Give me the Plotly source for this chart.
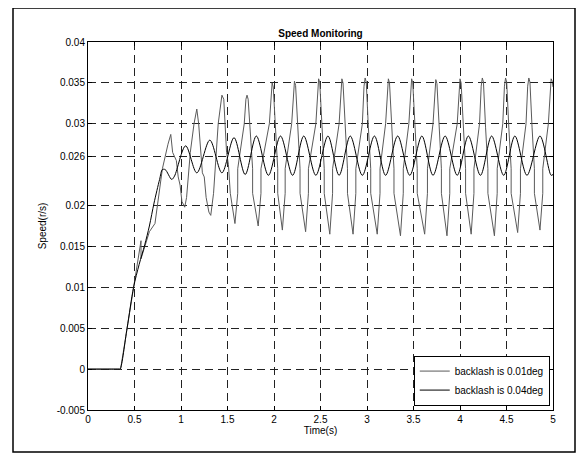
import plotly.graph_objects as go

# ---- data ----
x_ticks = [0, 0.5, 1, 1.5, 2, 2.5, 3, 3.5, 4, 4.5, 5]
x_tick_text = ["0", "0.5", "1", "1.5", "2", "2.5", "3", "3.5", "4", "4.5", "5"]
y_ticks = [-0.005, 0, 0.005, 0.01, 0.015, 0.02, 0.026, 0.03, 0.035, 0.04]
y_tick_text = ["-0.005", "0", "0.005", "0.01", "0.015", "0.02", "0.026", "0.03", "0.035", "0.04"]

series_names = ["backlash is 0.01deg", "backlash is 0.04deg"]

# backlash 0.01deg (grey, large jagged oscillation)
grey_t = [0, 0.35, 0.40, 0.45, 0.50, 0.57, 0.57, 0.62, 0.66, 0.72, 0.76, 0.80, 0.86, 0.89,
          0.91, 0.95, 0.97, 0.99, 1.01, 1.04, 1.06, 1.10, 1.14, 1.17, 1.19, 1.23, 1.25, 1.27,
          1.30, 1.32, 1.35, 1.38, 1.40, 1.44, 1.46, 1.49, 1.51, 1.53, 1.57,
          1.58, 1.61, 1.61, 1.68, 1.698, 1.71, 1.722, 1.745, 1.77, 1.77,
          1.83, 1.86, 1.86, 1.95, 1.968, 1.98, 1.992, 2.015, 2.04, 2.04,
          2.09, 2.12, 2.12, 2.19, 2.208, 2.22, 2.232, 2.255, 2.28, 2.28,
          2.34, 2.37, 2.37, 2.45, 2.468, 2.48, 2.492, 2.515, 2.54, 2.54,
          2.60, 2.63, 2.63, 2.70, 2.718, 2.73, 2.742, 2.765, 2.79, 2.79,
          2.85, 2.88, 2.88, 2.95, 2.968, 2.98, 2.992, 3.015, 3.04, 3.04,
          3.11, 3.14, 3.14, 3.20, 3.218, 3.23, 3.242, 3.265, 3.29, 3.29,
          3.36, 3.39, 3.39, 3.45, 3.468, 3.48, 3.492, 3.515, 3.54, 3.54,
          3.62, 3.65, 3.65, 3.71, 3.728, 3.74, 3.752, 3.775, 3.80, 3.80,
          3.86, 3.89, 3.89, 3.97, 3.988, 4.00, 4.012, 4.035, 4.06, 4.06,
          4.12, 4.15, 4.15, 4.21, 4.228, 4.24, 4.252, 4.275, 4.30, 4.30,
          4.37, 4.40, 4.40, 4.46, 4.478, 4.49, 4.502, 4.525, 4.55, 4.55,
          4.62, 4.65, 4.65, 4.71, 4.728, 4.74, 4.752, 4.775, 4.80, 4.80,
          4.86, 4.89, 4.89, 4.95, 4.968, 4.98, 4.992, 5.0]
grey_v = [0, 0, 0.0035, 0.0070, 0.0105, 0.0157, 0.0135, 0.0155, 0.0168, 0.0178, 0.0215, 0.0245, 0.0275, 0.0287,
          0.0265, 0.0255, 0.0235, 0.0225, 0.0205, 0.0198, 0.0210, 0.0265, 0.0300, 0.0318, 0.0300, 0.0240, 0.0235, 0.0210,
          0.0192, 0.0188, 0.0215, 0.0265, 0.0300, 0.0335, 0.0330, 0.0265, 0.0250, 0.0215, 0.0180,
          0.0178, 0.0215, 0.0245, 0.0300, 0.0330, 0.0335, 0.0330, 0.0290, 0.0245, 0.0215,
          0.0175, 0.0215, 0.0245, 0.0300, 0.0340, 0.0350, 0.0345, 0.0295, 0.0245, 0.0215,
          0.0170, 0.0215, 0.0245, 0.0300, 0.0342, 0.0352, 0.0347, 0.0295, 0.0245, 0.0215,
          0.0168, 0.0215, 0.0245, 0.0300, 0.0345, 0.0355, 0.0350, 0.0295, 0.0245, 0.0215,
          0.0165, 0.0215, 0.0245, 0.0300, 0.0345, 0.0355, 0.0350, 0.0295, 0.0245, 0.0215,
          0.0165, 0.0215, 0.0245, 0.0300, 0.0346, 0.0356, 0.0351, 0.0295, 0.0245, 0.0215,
          0.0165, 0.0215, 0.0245, 0.0300, 0.0345, 0.0355, 0.0350, 0.0295, 0.0245, 0.0215,
          0.0163, 0.0215, 0.0245, 0.0300, 0.0345, 0.0355, 0.0350, 0.0295, 0.0245, 0.0215,
          0.0165, 0.0215, 0.0245, 0.0300, 0.0344, 0.0354, 0.0349, 0.0295, 0.0245, 0.0215,
          0.0163, 0.0215, 0.0245, 0.0300, 0.0345, 0.0355, 0.0350, 0.0295, 0.0245, 0.0215,
          0.0165, 0.0215, 0.0245, 0.0300, 0.0346, 0.0356, 0.0351, 0.0295, 0.0245, 0.0215,
          0.0163, 0.0215, 0.0245, 0.0300, 0.0346, 0.0356, 0.0351, 0.0295, 0.0245, 0.0215,
          0.0167, 0.0215, 0.0245, 0.0300, 0.0346, 0.0356, 0.0351, 0.0295, 0.0245, 0.0215,
          0.0170, 0.0215, 0.0245, 0.0300, 0.0345, 0.0355, 0.0352, 0.0345]

# backlash 0.04deg (black, smooth oscillation)
black_t = [0, 0.25, 0.335, 0.345, 0.42, 0.49, 0.55, 0.61, 0.66, 0.71, 0.77, 0.80, 0.83, 0.90, 0.93,
           1.05, 1.17, 1.31, 1.44, 1.57, 1.69, 1.81, 1.94, 2.07, 2.20, 2.32, 2.45, 2.58, 2.70,
           2.82, 2.95, 3.08, 3.20, 3.33, 3.46, 3.59, 3.71, 3.84, 3.97, 4.09, 4.22, 4.34, 4.47,
           4.59, 4.72, 4.86, 4.98, 5.0]
black_v = [0, 0, 0, 0, 0.0050, 0.0100, 0.0128, 0.0152, 0.0175, 0.0203, 0.0232, 0.0244, 0.0244, 0.0232, 0.0236,
           0.0273, 0.0240, 0.0280, 0.0240, 0.0283, 0.0238, 0.0285, 0.0237, 0.0285, 0.0237, 0.0285, 0.0237, 0.0285, 0.0237,
           0.0285, 0.0237, 0.0285, 0.0237, 0.0285, 0.0237, 0.0285, 0.0237, 0.0285, 0.0237, 0.0285, 0.0237, 0.0285, 0.0237,
           0.0285, 0.0237, 0.0285, 0.0237, 0.0238]

FONT = "Liberation Sans, Arial, Helvetica, sans-serif"

fig = go.Figure()
fig.add_trace(go.Scatter(x=grey_t, y=grey_v, mode="lines", name=series_names[0],
                         line=dict(color="#5a5a5a", width=1)))
fig.add_trace(go.Scatter(x=black_t, y=black_v, mode="lines", name=series_names[1],
                         line=dict(color="#000000", width=1, shape="spline", smoothing=0.9)))

# page body has an 8px margin: shrink the figure so the plot lands at the reference pixels
OFF = 8
W, H = 584 - OFF, 456 - OFF
L = 88 - OFF
T = 42 - OFF
R = 584 - 553
B = 456 - 410
pw, ph = W - L - R, H - T - B

axis_common = dict(
    showline=True, linecolor="black", linewidth=1, mirror="ticks",
    ticks="inside", ticklen=4, tickcolor="black",
    showgrid=True, gridcolor="#222222", gridwidth=1, griddash="8px,5px",
    zeroline=False, tickfont=dict(family=FONT, size=10, color="black"),
)

fig.update_xaxes(range=[0, 5], tickvals=x_ticks, ticktext=x_tick_text,
                 title=dict(text="Time(s)", font=dict(family=FONT, size=10, color="black"), standoff=2),
                 **axis_common)
fig.update_yaxes(range=[-0.005, 0.04], tickvals=y_ticks, ticktext=y_tick_text,
                 title=dict(text="Speed(r/s)", font=dict(family=FONT, size=10, color="black"), standoff=8),
                 **axis_common)

# outer figure frame (reference pixels 13..575 x 8..452), converted to this figure's frame
fx0 = (13 - OFF - L) / pw
fx1 = (575 - OFF - L) / pw
fy1 = (H - B - (8 - OFF)) / ph
fy0 = (H - B - (452 - OFF)) / ph
fig.add_shape(type="rect", xref="paper", yref="paper", x0=fx0, x1=fx1, y0=fy0, y1=fy1,
              line=dict(color="black", width=1.5), fillcolor="rgba(0,0,0,0)", layer="below")

fig.update_layout(
    width=W, height=H,
    margin=dict(l=L, r=R, t=T, b=B, autoexpand=False),
    paper_bgcolor="white", plot_bgcolor="white",
    title=dict(text="<b>Speed Monitoring</b>", x=0.5, xref="paper", y=1 - (33 - OFF) / H, yref="container",
               yanchor="middle", font=dict(family=FONT, size=10, color="black")),
    legend=dict(x=0.993, y=0.012, xanchor="right", yanchor="bottom",
                bgcolor="white", bordercolor="black", borderwidth=1,
                font=dict(family=FONT, size=10, color="black"),
                tracegroupgap=0, itemwidth=30),
    showlegend=True,
)

fig.write_html("out.html")
